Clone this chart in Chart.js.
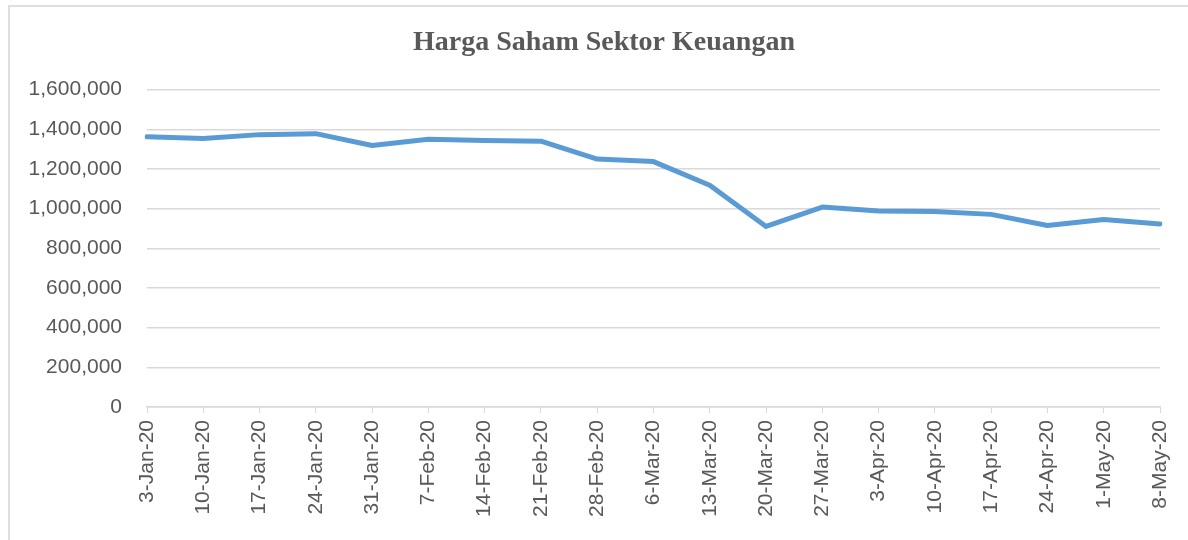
<!DOCTYPE html>
<html>
<head>
<meta charset="utf-8">
<script src="https://cdn.jsdelivr.net/npm/chart.js@4"></script>
<style>
  html, body { margin: 0; padding: 0; background: #fff; overflow: hidden; }
  #wrap { position: relative; width: 1188px; height: 540px; }
  #frame { position: absolute; left: 8px; top: 5px; width: 1200px; height: 600px; border: 2px solid #dedede; box-sizing: border-box; }
</style>
</head>
<body>
<div id="wrap">
  <div id="frame"></div>
  <canvas id="chart" width="1188" height="540"></canvas>
</div>
<script>
const dates = ['3-Jan-20', '10-Jan-20', '17-Jan-20', '24-Jan-20', '31-Jan-20', '7-Feb-20', '14-Feb-20',
  '21-Feb-20', '28-Feb-20', '6-Mar-20', '13-Mar-20', '20-Mar-20', '27-Mar-20', '3-Apr-20',
  '10-Apr-20', '17-Apr-20', '24-Apr-20', '1-May-20', '8-May-20']
const hargaSaham = [1362000, 1353000, 1373000, 1378000, 1318000, 1350000, 1343000,
  1340000, 1250000, 1237000, 1118000, 910000, 1008000, 988000,
  985000, 971000, 915000, 945000, 923000]
const yTicks = [0, 200000, 400000, 600000, 800000, 1000000, 1200000, 1400000, 1600000]

const grey = '#595959'
const gridColor = '#d9d9d9'

const elChart = document.getElementById('chart')

// the title sits a bit right of the canvas centre in the reference
const shiftTitle = {
  id: 'shiftTitle',
  afterLayout(chart) {
    if (chart.titleBlock) {
      chart.titleBlock.left = 48
      chart.titleBlock.right = 1160
    }
  }
}

new Chart(elChart, {
  type: 'line',
  data: {
    labels: dates,
    datasets: [{
      label: 'Harga Saham',
      data: hargaSaham,
      borderColor: '#5B9BD5',
      backgroundColor: '#5B9BD5',
      borderWidth: 5,
      borderCapStyle: 'round',
      borderJoinStyle: 'round',
      pointRadius: 0,
      tension: 0
    }]
  },
  options: {
    responsive: false,
    animation: false,
    layout: { padding: { top: 0, right: 28, bottom: 0, left: 0 } },
    plugins: {
      legend: { display: false },
      tooltip: { enabled: false },
      title: {
        display: true,
        text: 'Harga Saham Sektor Keuangan',
        color: grey,
        font: { family: '"Liberation Serif", "Times New Roman", serif', size: 28, weight: 'bold' },
        padding: { top: 26, bottom: 30 }
      }
    },
    scales: {
      x: {
        offset: false,
        grid: { display: true, drawOnChartArea: false, color: gridColor, tickLength: 6, tickColor: gridColor },
        border: { color: gridColor, width: 1.5 },
        ticks: {
          color: grey,
          font: { family: '"Liberation Sans", Arial, sans-serif', size: 21 },
          minRotation: 90,
          maxRotation: 90,
          autoSkip: false,
          padding: 7
        },
        afterFit: s => {
          s.height = 133
          s.paddingLeft = 0
          s.paddingRight = 0
        }
      },
      y: {
        min: 0,
        max: 1600000,
        afterBuildTicks: s => { s.ticks = yTicks.map(v => ({ value: v })) },
        grid: { color: gridColor, lineWidth: 1.5, drawTicks: false },
        border: { display: false },
        ticks: {
          color: grey,
          font: { family: '"Liberation Sans", Arial, sans-serif', size: 21 },
          padding: 25,
          callback: v => v.toLocaleString('en-US')
        },
        afterFit: s => { s.width = 147 }
      }
    }
  },
  plugins: [shiftTitle]
})
</script>
</body>
</html>
